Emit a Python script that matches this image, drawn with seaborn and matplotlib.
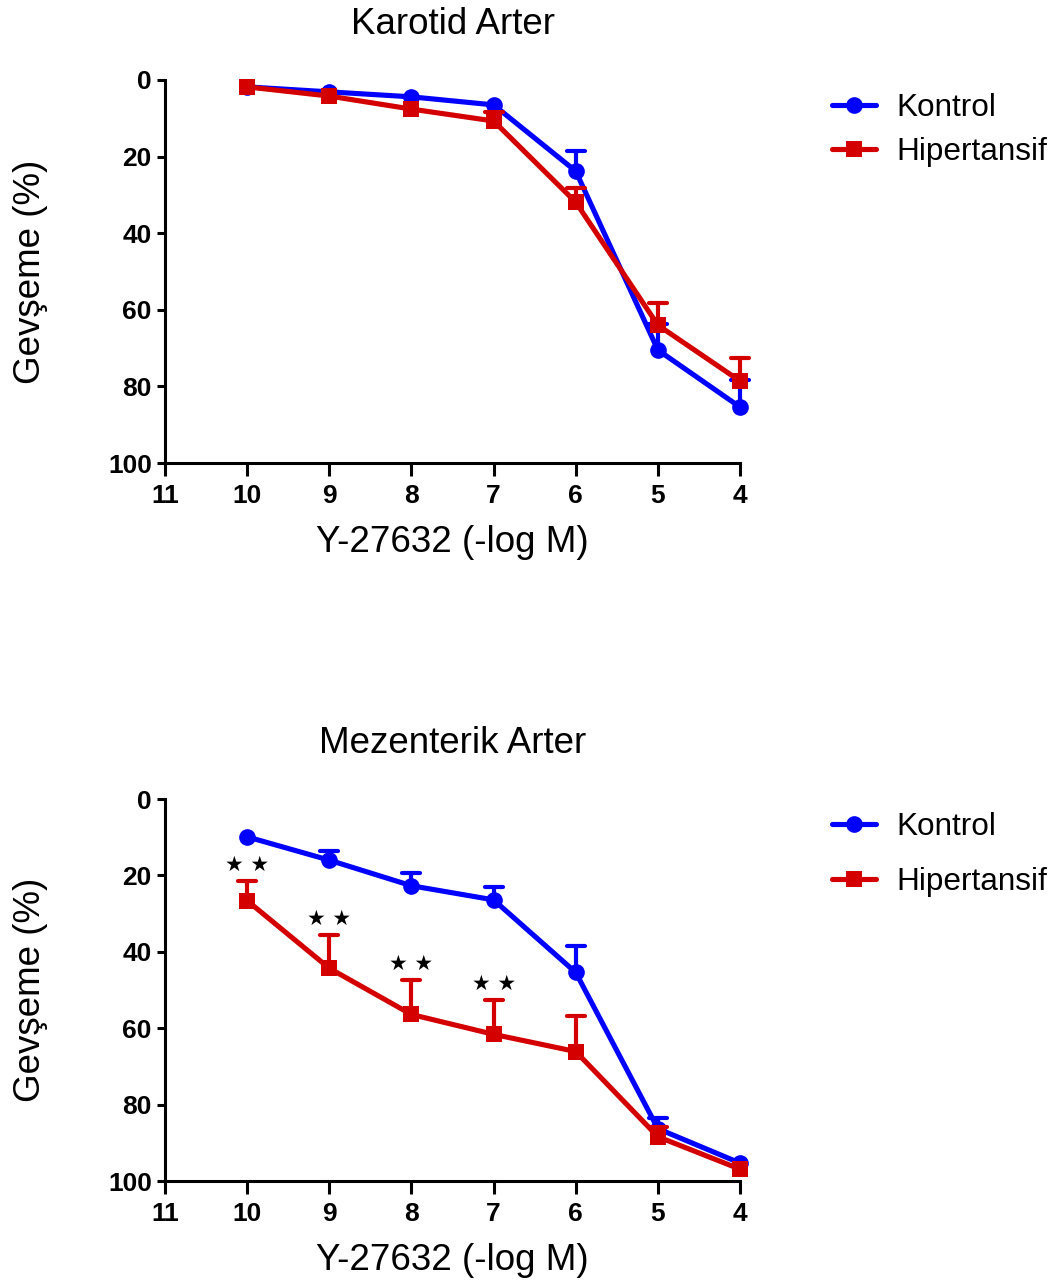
import numpy as np
import pandas as pd
import seaborn as sns
import matplotlib
matplotlib.use('Agg')
import matplotlib.pyplot as plt
from matplotlib.markers import MarkerStyle

# concentrations (-log M)
conc = [10, 9, 8, 7, 6, 5, 4]

# Karotid Arter
karotid_kontrol = [1.8, 3.1, 4.4, 6.5, 23.8, 70.5, 85.4]
karotid_kontrol_sem = [0.0, 0.0, 0.0, 0.0, 5.2, 6.7, 7.0]
karotid_hiper = [1.8, 4.2, 7.6, 10.7, 31.9, 64.0, 78.6]
karotid_hiper_sem = [0.0, 0.0, 0.0, 2.3, 3.7, 5.8, 6.0]

# Mezenterik Arter
mezen_kontrol = [9.9, 16.0, 22.7, 26.4, 45.4, 86.3, 95.3]
mezen_kontrol_sem = [0.0, 2.4, 3.4, 3.5, 7.0, 2.9, 0.0]
mezen_hiper = [26.6, 44.3, 56.4, 61.6, 66.1, 88.4, 96.9]
mezen_hiper_sem = [5.2, 8.8, 9.0, 9.0, 9.3, 2.6, 0.0]
mezen_stars = [10, 9, 8, 7]

groups = ["Kontrol", "Hipertansif"]
colors = {"Kontrol": "#0000FF", "Hipertansif": "#D40000"}
FONT = ['Liberation Sans', 'DejaVu Sans']


def make_df(kon, hip):
    return pd.DataFrame({
        "conc": conc * 2,
        "value": kon + hip,
        "group": ["Kontrol"] * len(conc) + ["Hipertansif"] * len(conc),
    })


def draw_panel(ax, title, kon, kon_sem, hip, hip_sem, leg_spacing):
    df = make_df(kon, hip)
    sns.lineplot(data=df, x="conc", y="value", hue="group", style="group",
                 hue_order=groups, style_order=groups, palette=colors,
                 markers={"Kontrol": "o", "Hipertansif": "s"}, dashes=False,
                 linewidth=3.7, markersize=12, markeredgewidth=0, ax=ax,
                 zorder=3, clip_on=False)
    for g, vals, sem, z in [("Kontrol", kon, kon_sem, 2), ("Hipertansif", hip, hip_sem, 4)]:
        x = np.array(conc)
        v = np.array(vals)
        e = np.array(sem)
        keep = e > 0
        # one-sided (upward) error bars, cap only at the far end
        eb = ax.errorbar(x[keep], v[keep], yerr=[e[keep], np.zeros(keep.sum())],
                         fmt='none', ecolor=colors[g], elinewidth=3, capsize=6.3,
                         capthick=3, zorder=z, clip_on=False)
        for cl in eb[1]:
            if np.allclose(cl.get_ydata(), v[keep]):
                cl.set_visible(False)
            else:
                cl.set_marker(MarkerStyle('_', capstyle='round'))
    ax.set_xlim(11, 4)
    ax.set_ylim(100, 0)
    ax.set_xticks(range(4, 12))
    ax.set_yticks(range(0, 101, 20))
    ax.set_title(title, fontsize=26.5, pad=33, family=FONT, color='black')
    ax.set_xlabel("Y-27632 (-log M)", fontsize=26.5, labelpad=12, family=FONT, color='black')
    ax.set_ylabel("Gevşeme (%)", fontsize=26.5, labelpad=43, family=FONT, color='black')
    for lab in ax.get_xticklabels() + ax.get_yticklabels():
        lab.set_fontweight('bold')
        lab.set_fontsize(19)
        lab.set_family(FONT)
    ax.tick_params(axis='x', bottom=True, length=9, width=2.2, pad=6,
                   colors='black', direction='out')
    ax.tick_params(axis='y', left=True, length=6, width=2.2, pad=3.5,
                   colors='black', direction='out')
    for s in ["top", "right"]:
        ax.spines[s].set_visible(False)
    for s in ["left", "bottom"]:
        ax.spines[s].set_linewidth(2.2)
        ax.spines[s].set_color('black')
    ax.grid(False)
    handles, labels = ax.get_legend_handles_labels()
    ax.legend(handles, labels, loc='upper left', bbox_to_anchor=(1.16, 0.965),
              frameon=False, handlelength=1.4, handletextpad=0.65,
              labelspacing=leg_spacing, borderpad=0, borderaxespad=0,
              prop={'family': FONT, 'size': 22.7})


sns.set_theme(style="white")
plt.rcParams['font.family'] = FONT
plt.rcParams['text.color'] = 'black'

fig = plt.figure(figsize=(10.61, 12.84), dpi=100)
ax1 = fig.add_axes([0.1555, 0.6394, 0.542, 0.2983])
ax2 = fig.add_axes([0.1555, 0.0802, 0.542, 0.2975])

draw_panel(ax1, "Karotid Arter", karotid_kontrol, karotid_kontrol_sem,
           karotid_hiper, karotid_hiper_sem, 0.42)
draw_panel(ax2, "Mezenterik Arter", mezen_kontrol, mezen_kontrol_sem,
           mezen_hiper, mezen_hiper_sem, 0.78)

# significance stars above the Hipertansif error bars
for c in mezen_stars:
    i = conc.index(c)
    top = mezen_hiper[i] - mezen_hiper_sem[i]
    ax2.text(c, top - 4.2, "★ ★", ha='center', va='center', fontsize=15,
             family=['DejaVu Sans'], color='black')

fig.savefig("out.png", dpi=100)
